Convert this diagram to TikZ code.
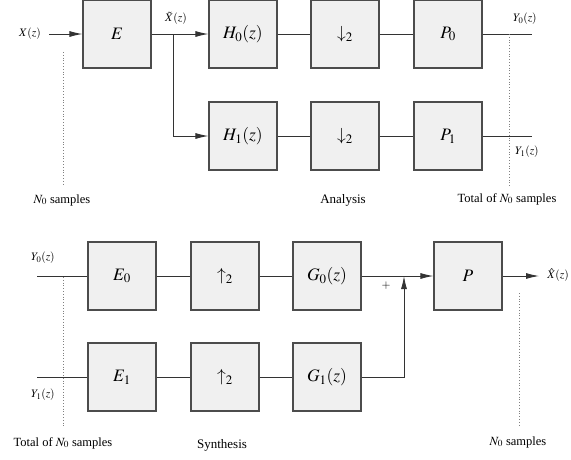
\documentclass[tikz,border=0pt]{standalone}
\usepackage{mathptmx}
\usepackage{fontspec}
\setmainfont{Liberation Serif}
\usepackage{xcolor}
\usepackage{tikz}
\usetikzlibrary{arrows.meta}

\definecolor{boxfill}{gray}{0.94}
\definecolor{boxline}{gray}{0.3}

\begin{document}
\begin{tikzpicture}[x=1pt,y=-1pt,
  block/.style = {draw=boxline,fill=boxfill,line width=1.1pt,minimum width=68pt,minimum height=68pt,inner sep=0pt,font=\fontsize{17.5}{19}\selectfont},
  lbl/.style = {inner sep=0pt,font=\fontsize{11.5}{13}\selectfont},
  note/.style = {inner sep=0pt,font=\fontsize{12.5}{14}\selectfont},
  title/.style = {inner sep=0pt,font=\fontsize{13}{15}\selectfont},
  wire/.style = {draw=black!80,line width=0.9pt},
  arr/.style = {wire,-{Latex[length=13pt,width=6pt]}},
  samp/.style = {draw=gray,line width=0.8pt,dotted}]

\useasboundingbox (0,0) rectangle (571,459);

% analysis
\node[lbl] (x) at (30,34) {$X(z)$};
\node[block] (e) at (117,34) {$E$};
\node[block] (h0) at (243,34) {$H_0(z)$};
\node[block] (d0) at (345,34) {$\downarrow_2$};
\node[block] (p0) at (448,34) {$P_0$};
\node[block] (h1) at (243,136) {$H_1(z)$};
\node[block] (d1) at (345,136) {$\downarrow_2$};
\node[block] (p1) at (448,136) {$P_1$};
\node[lbl] (xt) at (176,18) {$\tilde{X}(z)$};
\node[lbl] (y0) at (525,19) {$Y_0(z)$};
\node[lbl] (y1) at (527,152) {$Y_1(z)$};
\coordinate (xin) at (49,34);
\coordinate (y0end) at (532,34);
\coordinate (y1end) at (532,136);
\coordinate (split) at (173,34);

\draw[arr] (xin) -- (e);
\draw[arr] (e) -- (h0);
\draw[arr] (split) |- (h1);
\draw[wire] (h0) -- (d0);
\draw[wire] (d0) -- (p0);
\draw[wire] (p0) -- (y0end);
\draw[wire] (h1) -- (d1);
\draw[wire] (d1) -- (p1);
\draw[wire] (p1) -- (y1end);

\coordinate (s1a) at (63,52);
\coordinate (s1b) at (63,186);
\coordinate (s2a) at (509,34);
\coordinate (s2b) at (509,186);
\draw[samp] (s1a) -- (s1b);
\draw[samp] (s2a) -- (s2b);
\node[note] (n1) at (62,200) {$N_0$ samples};
\node[note] (n2) at (507,199) {Total of $N_0$ samples};
\node[title] (ana) at (343,200) {Analysis};

% synthesis
\node[lbl] (yy0) at (43,258) {$Y_0(z)$};
\node[lbl] (yy1) at (43,395) {$Y_1(z)$};
\coordinate (in0) at (37,276);
\coordinate (in1) at (37,377);
\node[block] (e0) at (122,276) {$E_0$};
\node[block] (u0) at (225,276) {$\uparrow_2$};
\node[block] (g0) at (327,276) {$G_0(z)$};
\node[block] (e1) at (122,377) {$E_1$};
\node[block] (u1) at (225,377) {$\uparrow_2$};
\node[block] (g1) at (327,377) {$G_1(z)$};
\node[block] (p) at (468,276) {$P$};
\node[lbl] (xh) at (558,275) {$\hat{X}(z)$};
\node[lbl] (plus) at (386,286) {$+$};
\coordinate (sum) at (404,276);
\coordinate (out) at (539,276);

\draw[wire] (in0) -- (e0);
\draw[wire] (e0) -- (u0);
\draw[wire] (u0) -- (g0);
\draw[arr] (g0) -- (p);
\draw[wire] (in1) -- (e1);
\draw[wire] (e1) -- (u1);
\draw[wire] (u1) -- (g1);
\draw[arr] (g1) -| (sum);
\draw[arr] (p) -- (out);

\coordinate (s3a) at (63,277);
\coordinate (s3b) at (63,427);
\coordinate (s4a) at (519,293);
\coordinate (s4b) at (519,427);
\draw[samp] (s3a) -- (s3b);
\draw[samp] (s4a) -- (s4b);
\node[note] (n3) at (63,443) {Total of $N_0$ samples};
\node[note] (n4) at (518,442) {$N_0$ samples};
\node[title] (syn) at (222,445) {Synthesis};
\end{tikzpicture}
\end{document}
